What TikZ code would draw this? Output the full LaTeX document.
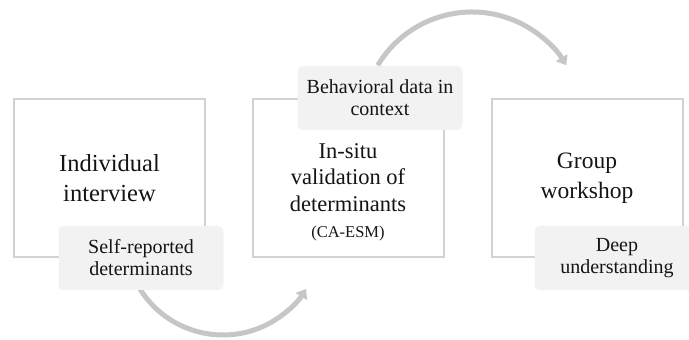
\documentclass[tikz,border=0pt]{standalone}
\usepackage{fontspec}
\setmainfont{Liberation Serif}
\usetikzlibrary{arrows.meta,positioning,calc}
\definecolor{StageFrame}{HTML}{D2D2D2}
\definecolor{StageTag}{HTML}{F2F2F2}
\definecolor{StageFlow}{HTML}{C6C6C6}
\definecolor{StageInk}{HTML}{141414}

\begin{document}
\begin{tikzpicture}[x=1pt,y=1pt,
    stage/.style={draw=StageFrame,line width=2pt,minimum width=191pt,minimum height=158pt,
      inner sep=0pt,align=center,text=StageInk,font=\fontsize{23.5}{30}\selectfont},
    tag/.style={fill=StageTag,rounded corners=5pt,minimum width=165pt,minimum height=64pt,
      inner sep=0pt,align=center,text=StageInk,font=\fontsize{20}{22}\selectfont},
    flow/.style={StageFlow,line width=5pt,-{Triangle[length=9pt,width=13pt]}}]
  \clip (0,0) rectangle (689,340);
  % three stages
  \node[stage,font=\fontsize{24.5}{30.5}\selectfont] (ind) at (109.5,162) {Individual\\interview};
  \node[stage] (val) at (348,162) {};
  \node[align=center,text=StageInk,font=\fontsize{22.5}{26.5}\selectfont] (valtext) at (348,147.5)
    {In-situ\\validation of\\determinants\\{\fontsize{16.5}{20}\selectfont(CA-ESM)}};
  \node[stage] (grp) at (587,162) {Group\\workshop};
  % arrows between stages
  \coordinate (lowc) at (223,103);
  \coordinate (highc) at (472,218);
  \draw[flow] ($(lowc)+(212:98)$) arc[start angle=212,end angle=328,radius=98];
  \draw[flow] ($(highc)+(149:110)$) arc[start angle=149,end angle=31,radius=110];
  % outcomes
  \node[tag] (self) at ([xshift=31.5pt]ind.south) {Self-reported\\determinants};
  \node[tag] (ctx) at ([xshift=32pt]val.north) {Behavioral data in\\context};
  \node[tag] (deep) at ([xshift=30pt]grp.south) {Deep\\understanding};
\end{tikzpicture}
\end{document}
